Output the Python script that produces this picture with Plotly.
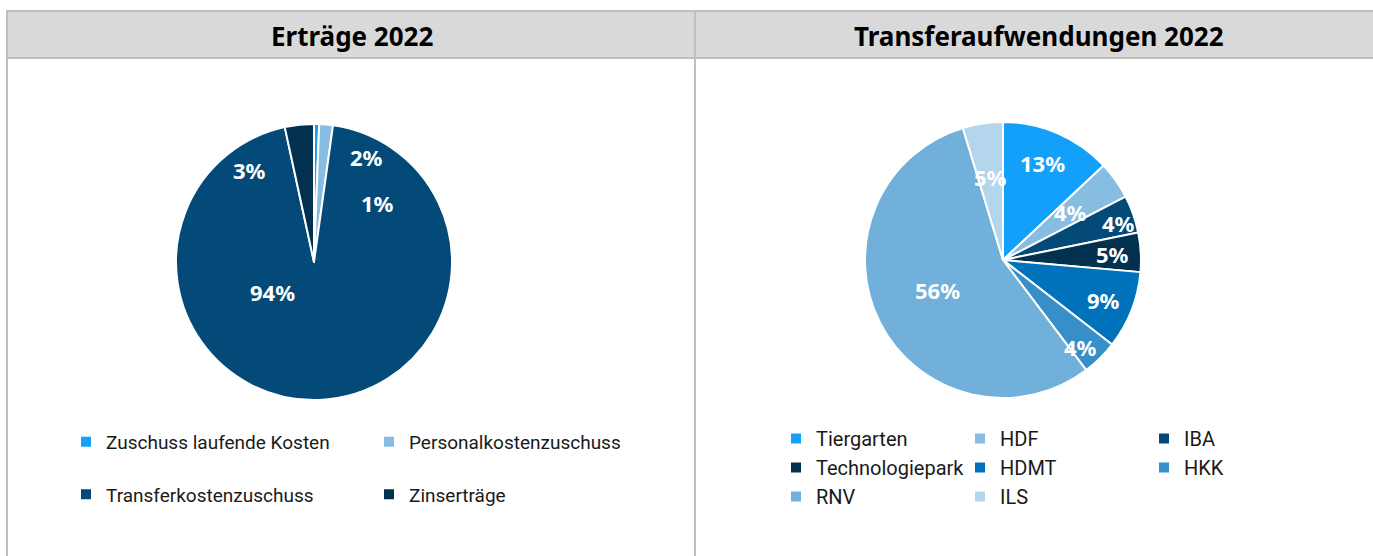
import plotly.graph_objects as go

# ---- data ----
ertraege_labels = ["Zuschuss laufende Kosten", "Personalkostenzuschuss",
                   "Transferkostenzuschuss", "Zinserträge"]
ertraege_values = [0.6, 1.6, 94.4, 3.4]
ertraege_colors = ["#12a0fa", "#88bde2", "#034a78", "#02304f"]

transfer_labels = ["Tiergarten", "HDF", "IBA", "Technologiepark", "HDMT",
                   "HKK", "RNV", "ILS"]
transfer_values = [13.0, 4.4, 4.4, 4.6, 9.1, 4.2, 55.6, 4.7]
transfer_colors = ["#12a0fa", "#88bde2", "#034a78", "#02304f", "#0071bb",
                   "#378fca", "#71b0da", "#b4d6ec"]

title_left = "Erträge 2022"
title_right = "Transferaufwendungen 2022"

# ---- layout helpers (pixel -> paper) ----
W, H = 1373, 556
ML, MR = 160, 1150          # plot-area left/right edge in pixels
PW = MR - ML
def px(x):
    return (x - ML) / PW
def py(y):
    return 1 - y / H

# label positions (pixels) for percentage labels
left_label_pos = [(377, 203), (366, 157), (272, 292), (249, 170)]
right_label_pos = [(1042, 163), (1070, 212), (1118, 223), (1112, 254),
                   (1103, 300), (1080, 347), (937, 290), (990, 177)]

fig = go.Figure()

fig.add_trace(go.Pie(
    labels=[l + "<br>&nbsp;" for l in ertraege_labels],
    values=ertraege_values,
    marker=dict(colors=ertraege_colors, line=dict(color="white", width=2)),
    sort=False, direction="clockwise", rotation=0,
    textinfo="none", hoverinfo="label+percent",
    domain=dict(x=[px(176), px(452)], y=[py(400), py(124)]),
    legend="legend",
))

fig.add_trace(go.Pie(
    labels=transfer_labels,
    values=transfer_values,
    marker=dict(colors=transfer_colors, line=dict(color="white", width=2)),
    sort=False, direction="clockwise", rotation=0,
    textinfo="none", hoverinfo="label+percent",
    domain=dict(x=[px(865), px(1141)], y=[py(398), py(122)]),
    legend="legend2",
))

annotations = []
label_font = dict(family="Noto Sans, Open Sans, sans-serif", size=22, color="white", weight="bold")
tot = sum(ertraege_values)
for v, (x, y) in zip(ertraege_values, left_label_pos):
    annotations.append(dict(text=f"{round(v / tot * 100)}%", x=px(x), y=py(y),
                            xref="paper", yref="paper", showarrow=False,
                            xanchor="center", yanchor="middle", font=label_font))
tot = sum(transfer_values)
for v, (x, y) in zip(transfer_values, right_label_pos):
    annotations.append(dict(text=f"{round(v / tot * 100)}%", x=px(x), y=py(y),
                            xref="paper", yref="paper", showarrow=False,
                            xanchor="center", yanchor="middle", font=label_font))

title_font = dict(family="Noto Sans, Open Sans, sans-serif", size=26, color="black", weight="bold")
annotations.append(dict(text=f"<b>{title_left}</b>", x=px(352), y=py(36), xref="paper", yref="paper",
                        showarrow=False, xanchor="center", yanchor="middle", font=title_font))
annotations.append(dict(text=f"<b>{title_right}</b>", x=px(1039), y=py(36), xref="paper", yref="paper",
                        showarrow=False, xanchor="center", yanchor="middle", font=title_font))

border = "#bfbfbf"
shapes = [
    dict(type="rect", xref="paper", yref="paper", x0=px(7), x1=px(695), y0=py(58), y1=py(11),
         fillcolor="#d9d9d9", line=dict(color=border, width=2), layer="below"),
    dict(type="rect", xref="paper", yref="paper", x0=px(695), x1=px(1380), y0=py(58), y1=py(11),
         fillcolor="#d9d9d9", line=dict(color=border, width=2), layer="below"),
    dict(type="line", xref="paper", yref="paper", x0=px(7), x1=px(7), y0=py(11), y1=py(560),
         line=dict(color=border, width=2)),
    dict(type="line", xref="paper", yref="paper", x0=px(695), x1=px(695), y0=py(11), y1=py(560),
         line=dict(color=border, width=2)),
]

fig.update_layout(
    width=W, height=H,
    margin=dict(l=ML, r=W - MR, t=0, b=0, autoexpand=False),
    paper_bgcolor="white", plot_bgcolor="white",
    annotations=annotations, shapes=shapes,
    legend=dict(orientation="h", x=px(66), y=py(423), xanchor="left", yanchor="top",
                entrywidth=258, entrywidthmode="pixels", valign="top",
                font=dict(family="Roboto, sans-serif", size=19, color="#1a1a1a"),
                bgcolor="rgba(0,0,0,0)", traceorder="normal"),
    legend2=dict(orientation="h", x=px(776 + 552), y=py(419), xanchor="right", yanchor="top",
                 entrywidth=139, entrywidthmode="pixels",
                 font=dict(family="Roboto, sans-serif", size=20, color="#1a1a1a"),
                 bgcolor="rgba(0,0,0,0)", traceorder="normal"),
)

fig.write_html("out.html", post_script="document.body.style.margin='0';",
               config={"displayModeBar": False})
